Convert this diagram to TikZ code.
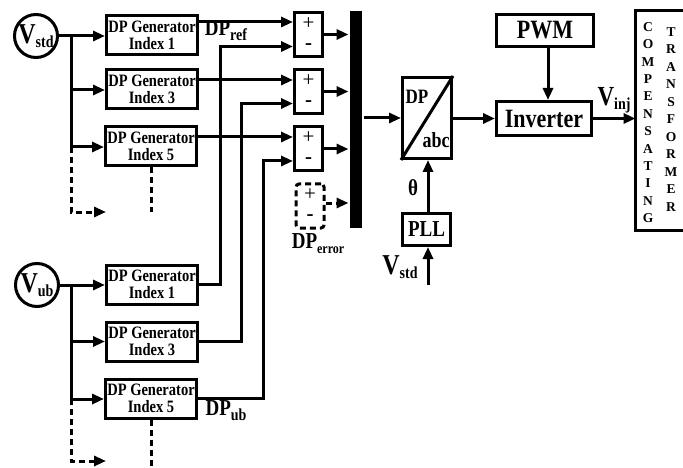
\documentclass[tikz,border=0pt]{standalone}
\usepackage{fontspec}
\setmainfont{Liberation Serif}
\usetikzlibrary{arrows.meta}
\newcommand\lowsub[2]{\raisebox{-#1}{#2}}
\newcommand\fsz[1]{\fontsize{#1}{#1}\selectfont}
\newcommand\vst[1]{\scalebox{1}[1.2]{#1}}
\begin{document}
\begin{tikzpicture}[x=1pt,y=-1pt,line width=3pt]
\tikzset{
 blk/.style={draw, line width=3pt, inner sep=0pt, align=center, font=\bfseries},
 gen/.style={blk, minimum width=91pt, minimum height=39pt, font=\bfseries\fontsize{14.5}{17}\selectfont},
 sumbox/.style={blk, minimum width=28pt, minimum height=44pt},
 vcirc/.style={circle, draw, line width=3pt, minimum size=43pt, inner sep=0pt, font=\bfseries},
 arr/.style={-{Triangle[length=12pt,width=10pt]}},
 dsh/.style={dash pattern=on 6pt off 4pt},
 pm/.style={font=\fsz{21}, inner sep=0pt},
 lbl/.style={font=\bfseries, inner sep=0pt},
}
\useasboundingbox (0,0) rectangle (683,468);
% ---------- top generators ----------
\node[vcirc] (vs) at (36,36) {\vst{\fsz{24}V\lowsub{3pt}{\fsz{14}std}}};
\node[gen] (g1) at (152,35) {\vst{DP Generator}\\\vst{Index 1}};
\node[gen] (g3) at (152,89.5) {\vst{DP Generator}\\\vst{Index 3}};
\node[gen] (g5) at (151,146) {\vst{DP Generator}\\\vst{Index 5}};
\coordinate (b1) at (71,36);
\coordinate (b3) at (71,90);
\coordinate (b5) at (71,147);
\coordinate (b7) at (71,212);
\coordinate (b7e) at (106,212);
\coordinate (g5d) at (151,212);
\draw[arr] (vs.east) -- (g1.west |- vs.east);
\draw (b1) -- (b5);
\draw[arr] (b3) -- (b3 -| g3.west);
\draw[arr] (b5) -- (b5 -| g5.west);
\draw[dsh,arr] (b5) -- (b7) -- (b7e);
\draw[dsh] (g5.south) -- (g5d);
% ---------- bottom generators ----------
\node[vcirc] (vu) at (37,285) {\vst{\fsz{24}V\lowsub{3pt}{\fsz{14}ub}}};
\node[gen] (h1) at (152,284.5) {\vst{DP Generator}\\\vst{Index 1}};
\node[gen] (h3) at (152,341.5) {\vst{DP Generator}\\\vst{Index 3}};
\node[gen] (h5) at (151,398.5) {\vst{DP Generator}\\\vst{Index 5}};
\coordinate (c1) at (71,285);
\coordinate (c3) at (71,341.5);
\coordinate (c5) at (71,399);
\coordinate (c7) at (71,461);
\coordinate (c7e) at (106,461);
\coordinate (h5d) at (151,468);
\draw[arr] (vu.east) -- (h1.west |- vu.east);
\draw (c1) -- (c5);
\draw[arr] (c3) -- (c3 -| h3.west);
\draw[arr] (c5) -- (c5 -| h5.west);
\draw[dsh,arr] (c5) -- (c7) -- (c7e);
\draw[dsh] (h5.south) -- (h5d);
% ---------- summing boxes ----------
\node[sumbox] (s1) at (308.5,34.5) {};
\node[sumbox] (s2) at (308.5,91.5) {};
\node[sumbox] (s3) at (308.5,149) {};
\node[sumbox, dsh, rounded corners=3pt] (s4) at (310,206) {};
\foreach \s in {s1,s2,s3,s4}{
  \node[pm] (\s p) at ([yshift=11pt]\s.center) {+};
  \node[pm, font=\bfseries\fsz{21}] (\s m) at ([yshift=-12pt]\s.center) {-};
}
\draw[arr] (g1.east |- 0,22) -- (s1.west |- 0,22);
\draw[arr] (g3.east |- 0,80) -- (s2.west |- 0,80);
\draw[arr] (g5.east |- 0,137) -- (s3.west |- 0,137);
\draw[arr] (h1.east) -| (220,46.5) -- (s1.west |- 0,46.5);
\draw[arr] (h3.east) -| (241,103.5) -- (s2.west |- 0,103.5);
\draw[arr] (h5.east) -| (263,161) -- (s3.west |- 0,161);
% ---------- bar ----------
\node[fill, inner sep=0pt, minimum width=12pt, minimum height=217pt] (bar) at (356,119.5) {};
\draw[arr] (s1.east) -- (s1.east -| bar.west);
\draw[arr] (s2.east) -- (s2.east -| bar.west);
\draw[arr] (s3.east) -- (s3.east -| bar.west);
\draw[arr,dsh] (s4.east |- 0,203) -- (bar.west |- 0,203);
% labels
\node[lbl] (dpref) at (226,31) {\vst{\fsz{19}DP\lowsub{4pt}{\fsz{14}ref}}};
\node[lbl] (dperr) at (318,244) {\vst{\fsz{19}DP\lowsub{4pt}{\fsz{12}error}}};
\node[lbl] (dpub) at (226,411) {\vst{\fsz{19}DP\lowsub{4pt}{\fsz{14}ub}}};
% ---------- right part ----------
\node[blk, minimum width=49pt, minimum height=81pt] (dq) at (427,118) {};
\draw (dq.south west) -- (dq.north east);
\node[lbl] at (417,97) {\vst{\fsz{17}DP}};
\node[lbl] at (436,140) {\vst{\fsz{18}abc}};
\draw[arr] (bar.east |- dq.west) -- (dq.west);
\node[blk, minimum width=95pt, minimum height=34pt, font=\bfseries\fsz{22}] (inv) at (544,118.5) {\vst{Inverter}};
\node[blk, minimum width=97pt, minimum height=32pt, font=\bfseries\fsz{22}] (pwm) at (545,30.5) {\vst{PWM}};
\draw[arr] (dq.east |- inv.west) -- (inv.west);
\draw[arr] (548,0 |- pwm.south) -- (548,0 |- inv.north);
\node[blk, draw=none, minimum width=46pt, minimum height=216pt] (tr) at (660,120.5) {};
\draw (tr.north east) -- (tr.north west) -- (tr.south west) -- (tr.south east);
\draw[arr] (inv.east) -- (inv.east -| tr.west);
\node[lbl] (vinj) at (614,100) {\vst{\fsz{23}V\lowsub{3pt}{\fsz{14}inj}}};
\node[lbl, align=center, font=\bfseries\fontsize{13.5}{17.4}\selectfont] (comp) at (648,122.5) {C\\O\\M\\P\\E\\N\\S\\A\\T\\I\\N\\G};
\node[lbl, align=center, font=\bfseries\fontsize{13.5}{17.5}\selectfont] (trf) at (671,119.5) {T\\R\\A\\N\\S\\F\\O\\R\\M\\E\\R};
\node[blk, minimum width=48pt, minimum height=32pt, font=\bfseries\fsz{19}] (pll) at (426.5,229.5) {\vst{PLL}};
\draw[arr] (428,0 |- pll.north) -- (428,0 |- dq.south);
\node[lbl] (theta) at (413,188) {\vst{\fsz{19}θ}};
\coordinate (pin) at (428,285);
\draw[arr] (pin) -- (pin |- pll.south);
\node[lbl] (vstd2) at (400,267) {\vst{\fsz{24}V\lowsub{3pt}{\fsz{14}std}}};
\end{tikzpicture}
\end{document}
